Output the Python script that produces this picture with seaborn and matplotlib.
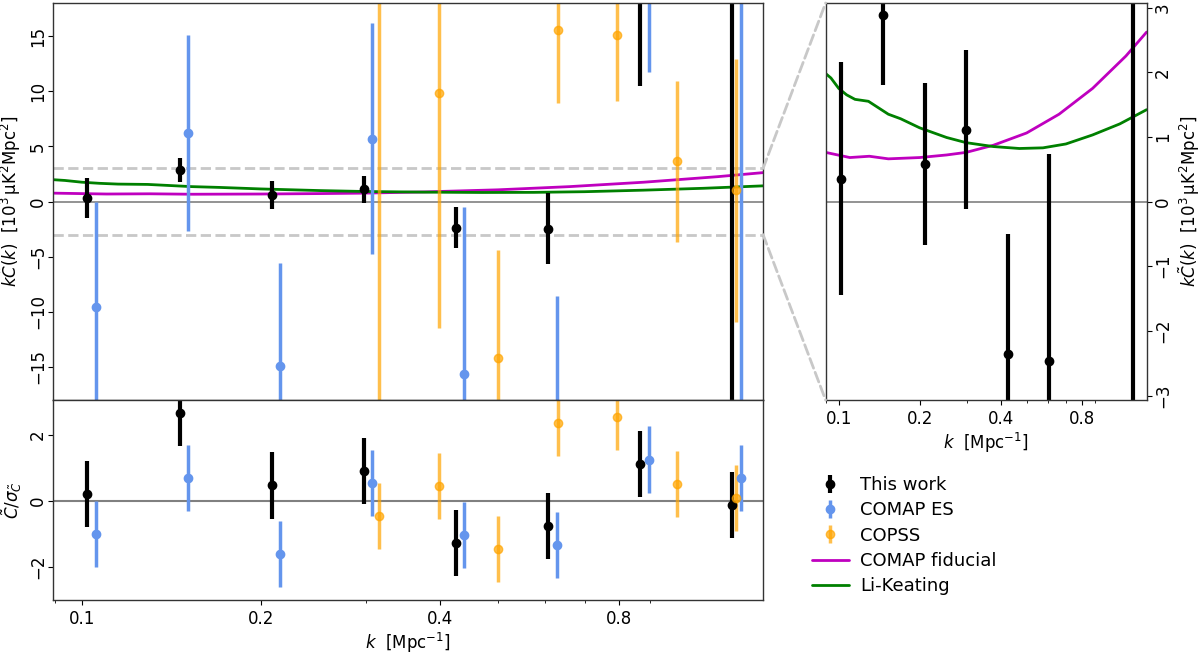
import numpy as np
import pandas as pd
import matplotlib
matplotlib.use('Agg')
import matplotlib.pyplot as plt
import seaborn as sns
from matplotlib.patches import ConnectionPatch
from matplotlib.transforms import offset_copy
from matplotlib.ticker import FixedLocator, NullFormatter, LogLocator, FixedFormatter

# ---------------- data ----------------
k_this = [0.102, 0.146, 0.209, 0.298, 0.426, 0.608, 0.868, 1.24]
C_this = [0.35, 2.88, 0.58, 1.11, -2.36, -2.47, 98.0, -26.0]
s_this = [1.80, 1.08, 1.25, 1.23, 1.85, 3.21, 87.5, 200.0]

k_es = [0.1056, 0.1508, 0.2153, 0.3074, 0.439, 0.629, 0.899, 1.283]
C_es = [-9.6, 6.22, -14.9, 5.7, -15.6, -33.2, 58.5, 69.0]
s_es = [9.6, 8.9, 9.3, 10.5, 15.1, 24.6, 46.8, 100.0]

k_copss = [0.316, 0.398, 0.501, 0.631, 0.794, 1.0, 1.259]
C_copss = [-18.4, 9.82, -14.2, 15.56, 15.07, 3.63, 1.02]
s_copss = [40.0, 21.3, 9.8, 6.6, 5.94, 7.3, 11.9]

k_fid = [0.0894, 0.110, 0.130, 0.153, 0.200, 0.252, 0.298, 0.376, 0.50, 0.66, 0.88, 1.17, 1.397]
C_fid = [0.76, 0.68, 0.70, 0.66, 0.68, 0.72, 0.76, 0.87, 1.06, 1.35, 1.75, 2.25, 2.62]

k_lk = [0.0894, 0.0936, 0.1, 0.107, 0.115, 0.129, 0.153, 0.17, 0.20, 0.252, 0.298,
        0.376, 0.47, 0.575, 0.70, 0.88, 1.11, 1.397]
C_lk = [1.98, 1.91, 1.75, 1.65, 1.58, 1.55, 1.35, 1.28, 1.14, 0.99, 0.91,
        0.85, 0.82, 0.83, 0.89, 1.03, 1.20, 1.42]

xticks = [0.1, 0.2, 0.4, 0.8]
xticklabels = ['0.1', '0.2', '0.4', '0.8']
yticks_top = [-15, -10, -5, 0, 5, 10, 15]
yticks_bot = [-2, 0, 2]
yticks_r = [-3, -2, -1, 0, 1, 2, 3]

# ---------------- style ----------------
sns.set_theme(style='ticks')
rc = plt.rcParams
rc['font.family'] = ['DejaVu Sans']
rc['text.color'] = 'black'
rc['axes.labelcolor'] = 'black'
rc['xtick.color'] = 'black'
rc['ytick.color'] = 'black'
rc['axes.edgecolor'] = '#333333'
rc['mathtext.fontset'] = 'dejavusans'
for a in ('xtick', 'ytick'):
    rc[a + '.major.size'] = 3.5
    rc[a + '.minor.size'] = 2.0
    rc[a + '.major.width'] = 0.8
    rc[a + '.minor.width'] = 0.6
    rc[a + '.major.pad'] = 3.5
    rc[a + '.minor.pad'] = 3.4
rc['axes.labelpad'] = 4.0

MAGENTA = '#bf00bf'
GREEN = '#008000'
BLUE = 'cornflowerblue'
ORANGE = 'orange'
DASH = '#c8c8c8'

XLIM = (0.0894, 1.397)
fs_tick = 12
fs_lab = 12
YLAB = r'$k\tilde{C}(k)$  [$10^3\,$µK$^2$Mpc$^2$]'

def minus(v):
    return str(v).replace('-', '\u2212')

fig = plt.figure(figsize=(12, 6.53), dpi=100)
ax_top = fig.add_axes([0.0442, 0.3874, 0.5917, 0.608])
ax_bot = fig.add_axes([0.0442, 0.0812, 0.5917, 0.3062], sharex=ax_top)
ax_r = fig.add_axes([0.688, 0.3874, 0.2675, 0.608])

def draw_models(ax):
    sns.lineplot(x=k_fid, y=C_fid, ax=ax, color=MAGENTA, lw=2, label='COMAP fiducial', legend=False)
    sns.lineplot(x=k_lk, y=C_lk, ax=ax, color=GREEN, lw=2, label='Li-Keating', legend=False)

# ---- top-left panel ----
ax_top.axhline(0, color='grey', lw=1.2, zorder=1)
ax_top.axhline(3, color=DASH, lw=2, ls='--', zorder=1)
ax_top.axhline(-3, color=DASH, lw=2, ls='--', zorder=1)
draw_models(ax_top)
h_this = ax_top.errorbar(k_this, C_this, yerr=s_this, fmt='o', color='black', ms=6, elinewidth=3, capsize=0)
h_es = ax_top.errorbar(k_es, C_es, yerr=s_es, fmt='o', color=BLUE, ms=6, elinewidth=2.5, capsize=0)
h_cp = ax_top.errorbar(k_copss, C_copss, yerr=s_copss, fmt='o', color=ORANGE, alpha=0.7, ms=6, elinewidth=2.5, capsize=0)
ax_top.set_ylim(-18, 18)
ax_top.set_ylabel(YLAB, fontsize=fs_lab)
ax_top.yaxis.set_label_coords(-0.0418, 0.5)

# ---- bottom-left panel ----
ax_bot.axhline(0, color='grey', lw=1.5, zorder=1)
r_this = np.array(C_this) / np.array(s_this)
r_es = np.array(C_es) / np.array(s_es)
r_cp = np.array(C_copss) / np.array(s_copss)
ax_bot.errorbar(k_this, r_this, yerr=1, fmt='o', color='black', ms=6, elinewidth=3, capsize=0)
ax_bot.errorbar(k_es, r_es, yerr=1, fmt='o', color=BLUE, ms=6, elinewidth=2.5, capsize=0)
ax_bot.errorbar(k_copss, r_cp, yerr=1, fmt='o', color=ORANGE, alpha=0.7, ms=6, elinewidth=2.5, capsize=0)
ax_bot.set_ylim(-3.0, 3.05)
ax_bot.set_ylabel(r'$\tilde{C}/\sigma_{\tilde{C}}$', fontsize=fs_lab)
ax_bot.yaxis.set_label_coords(-0.0408, 0.5)
ax_bot.set_xlabel(r'$k$  [Mpc$^{-1}$]', fontsize=fs_lab, labelpad=2)

# ---- right zoom panel ----
ax_r.axhline(0, color='grey', lw=1.2, zorder=1)
draw_models(ax_r)
ax_r.errorbar(k_this, C_this, yerr=s_this, fmt='o', color='black', ms=6, elinewidth=3, capsize=0)
ax_r.set_ylim(-3.07, 3.07)
ax_r.yaxis.tick_right()
ax_r.yaxis.set_label_position('right')
ax_r.set_ylabel(YLAB, fontsize=fs_lab)
ax_r.yaxis.set_label_coords(1.094, 0.5)
ax_r.set_xlabel(r'$k$  [Mpc$^{-1}$]', fontsize=fs_lab, labelpad=2)

for ax in (ax_top, ax_bot, ax_r):
    ax.set_xscale('log')
    ax.set_xlim(*XLIM)
    ax.xaxis.set_major_locator(FixedLocator(xticks))
    ax.xaxis.set_major_formatter(FixedFormatter(xticklabels))
    ax.xaxis.set_minor_locator(LogLocator(base=10, subs=np.arange(2, 10)))
    ax.xaxis.set_minor_formatter(NullFormatter())
    ax.tick_params(labelsize=fs_tick)
    for sp in ax.spines.values():
        sp.set_visible(True)
        sp.set_linewidth(1.0)
ax_top.tick_params(axis='x', which='both', length=0, labelbottom=False)

# y ticks; labels drawn rotated by 90 degrees as in the reference
for ax, yt, side in ((ax_top, yticks_top, 'left'), (ax_bot, yticks_bot, 'left'), (ax_r, yticks_r, 'right')):
    ax.set_yticks(yt)
    ax.tick_params(axis='y', labelleft=False, labelright=False)
    if side == 'left':
        tr = offset_copy(ax.get_yaxis_transform(), fig=fig, x=-4.5, y=0, units='points')
        xa, ha = 0, 'right'
    else:
        tr = offset_copy(ax.get_yaxis_transform(), fig=fig, x=5.2, y=0, units='points')
        xa, ha = 1, 'left'
    for v in yt:
        ax.text(xa, v, minus(v), transform=tr, rotation=90, ha=ha, va='center',
                fontsize=fs_tick, color='black', clip_on=False)

# ---- connector lines ----
for ya, yb in ((3, 1), (-3, 0)):
    con = ConnectionPatch(xyA=(XLIM[1], ya), coordsA=ax_top.transData,
                          xyB=(0, yb), coordsB=ax_r.transAxes,
                          color=DASH, lw=2, ls='--')
    fig.add_artist(con)

# ---- legend ----
line_handles = [l for l in ax_top.get_lines() if l.get_label() in ('COMAP fiducial', 'Li-Keating')]
handles = [h_this, h_es, h_cp] + line_handles
labels = ['This work', 'COMAP ES', 'COPSS', 'COMAP fiducial', 'Li-Keating']
fig.legend(handles, labels, loc='upper left', bbox_to_anchor=(0.671, 0.2818),
           frameon=False, fontsize=13, borderaxespad=0, handlelength=2.0,
           handletextpad=0.65, labelspacing=0.4)

fig.savefig('out.png', dpi=100)
